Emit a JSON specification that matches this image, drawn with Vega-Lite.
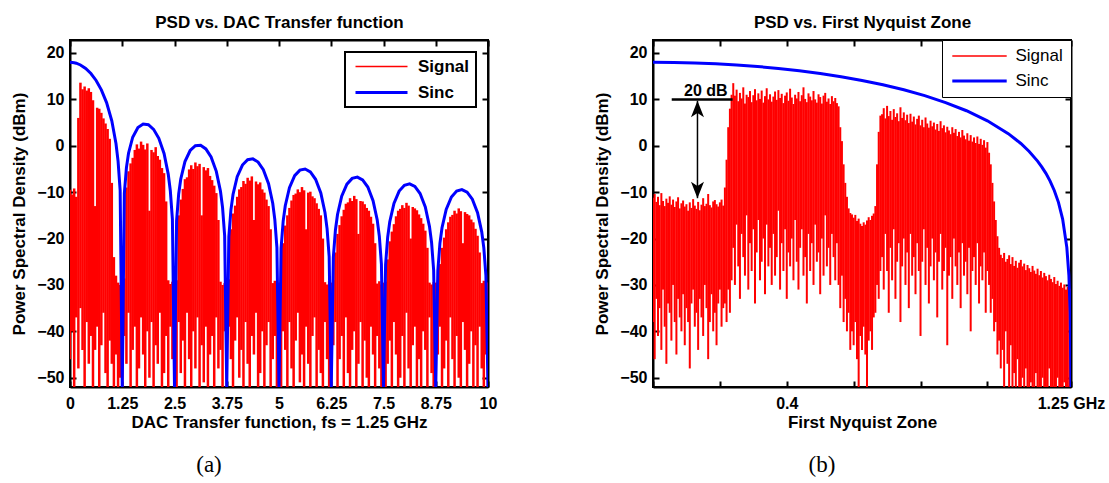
{
"$schema": "https://vega.github.io/schema/vega-lite/v6.json",
"background": "white",
"padding": {"left": 9, "top": 12, "right": 0, "bottom": 0},
"spacing": 94,
"datasets": {
"sigA": [
{"f":0,"hi":-9.5,"lo":-46},{"f":0.05,"hi":-10.5,"lo":-40},{"f":0.1,"hi":-9.2,"lo":-52},{"f":0.15,"hi":-11,"lo":-37},{"f":0.2,"hi":6,"lo":-48},{"f":0.25,"hi":13.6,"lo":-35},{"f":0.3,"hi":12.2,"lo":-44},{"f":0.35,"hi":12.8,"lo":-52},{"f":0.4,"hi":11.9,"lo":-38},{"f":0.45,"hi":12.4,"lo":-47},{"f":0.5,"hi":11.6,"lo":-41},{"f":0.55,"hi":9.8,"lo":-52},{"f":0.6,"hi":-13,"lo":-44},{"f":0.65,"hi":8.2,"lo":-39},{"f":0.7,"hi":8,"lo":-52},{"f":0.75,"hi":7.1,"lo":-43},{"f":0.8,"hi":5.9,"lo":-36},{"f":0.85,"hi":4.8,"lo":-49},{"f":0.9,"hi":3.6,"lo":-52},{"f":0.95,"hi":1.5,"lo":-42},{"f":1,"hi":-8,"lo":-47},{"f":1.05,"hi":-24,"lo":-52},{"f":1.1,"hi":-28,"lo":-45},{"f":1.15,"hi":-29.5,"lo":-52},{"f":1.2,"hi":-30,"lo":-50},
{"f":1.25,"hi":-29.5,"lo":-52},{"f":1.3,"hi":-28.6,"lo":-41},{"f":1.35,"hi":-9,"lo":-47},{"f":1.4,"hi":-5.5,"lo":-36},{"f":1.45,"hi":-3.8,"lo":-52},{"f":1.5,"hi":-2.6,"lo":-44},{"f":1.55,"hi":-0.9,"lo":-39},{"f":1.6,"hi":0.3,"lo":-52},{"f":1.65,"hi":-0.6,"lo":-48},{"f":1.7,"hi":0.9,"lo":-37},{"f":1.75,"hi":0.2,"lo":-45},{"f":1.8,"hi":-0.8,"lo":-52},{"f":1.85,"hi":0.5,"lo":-40},{"f":1.9,"hi":-14,"lo":-50},{"f":1.95,"hi":-0.9,"lo":-38},{"f":2,"hi":-1.4,"lo":-52},{"f":2.05,"hi":-0.3,"lo":-43},{"f":2.1,"hi":-2.2,"lo":-47},{"f":2.15,"hi":-3,"lo":-36},{"f":2.2,"hi":-4.8,"lo":-52},{"f":2.25,"hi":-5.9,"lo":-49},{"f":2.3,"hi":-12,"lo":-41},{"f":2.35,"hi":-29,"lo":-52},{"f":2.4,"hi":-29.8,"lo":-39},{"f":2.45,"hi":-29.3,"lo":-46},
{"f":2.5,"hi":-29.5,"lo":-44},{"f":2.55,"hi":-29,"lo":-52},{"f":2.6,"hi":-15,"lo":-38},{"f":2.65,"hi":-11.6,"lo":-49},{"f":2.7,"hi":-9.3,"lo":-42},{"f":2.75,"hi":-7.2,"lo":-52},{"f":2.8,"hi":-6.8,"lo":-36},{"f":2.85,"hi":-5.1,"lo":-46},{"f":2.9,"hi":-4.2,"lo":-52},{"f":2.95,"hi":-5,"lo":-40},{"f":3,"hi":-3.6,"lo":-48},{"f":3.05,"hi":-4.4,"lo":-37},{"f":3.1,"hi":-3.9,"lo":-52},{"f":3.15,"hi":-15,"lo":-43},{"f":3.2,"hi":-4.6,"lo":-51},{"f":3.25,"hi":-5.3,"lo":-39},{"f":3.3,"hi":-4.8,"lo":-52},{"f":3.35,"hi":-6.5,"lo":-45},{"f":3.4,"hi":-7.4,"lo":-41},{"f":3.45,"hi":-8.6,"lo":-52},{"f":3.5,"hi":-10.2,"lo":-37},{"f":3.55,"hi":-16,"lo":-48},{"f":3.6,"hi":-29.3,"lo":-44},{"f":3.65,"hi":-30,"lo":-52},{"f":3.7,"hi":-29.6,"lo":-40},
{"f":3.75,"hi":-29.5,"lo":-52},{"f":3.8,"hi":-28.8,"lo":-39},{"f":3.85,"hi":-18,"lo":-46},{"f":3.9,"hi":-14.6,"lo":-52},{"f":3.95,"hi":-12.9,"lo":-42},{"f":4,"hi":-11,"lo":-37},{"f":4.05,"hi":-9.4,"lo":-50},{"f":4.1,"hi":-8.9,"lo":-44},{"f":4.15,"hi":-7.6,"lo":-52},{"f":4.2,"hi":-8.2,"lo":-38},{"f":4.25,"hi":-6.9,"lo":-47},{"f":4.3,"hi":-7.5,"lo":-52},{"f":4.35,"hi":-6.6,"lo":-41},{"f":4.4,"hi":-16,"lo":-45},{"f":4.45,"hi":-7.7,"lo":-36},{"f":4.5,"hi":-8.3,"lo":-52},{"f":4.55,"hi":-7.9,"lo":-49},{"f":4.6,"hi":-9.4,"lo":-40},{"f":4.65,"hi":-10.1,"lo":-52},{"f":4.7,"hi":-11.6,"lo":-43},{"f":4.75,"hi":-13,"lo":-38},{"f":4.8,"hi":-18,"lo":-52},{"f":4.85,"hi":-29.6,"lo":-46},{"f":4.9,"hi":-29.1,"lo":-41},{"f":4.95,"hi":-29.8,"lo":-52},
{"f":5,"hi":-29.5,"lo":-47},{"f":5.05,"hi":-29.2,"lo":-52},{"f":5.1,"hi":-21,"lo":-40},{"f":5.15,"hi":-17.2,"lo":-44},{"f":5.2,"hi":-15,"lo":-52},{"f":5.25,"hi":-13.4,"lo":-38},{"f":5.3,"hi":-11.8,"lo":-48},{"f":5.35,"hi":-10.6,"lo":-52},{"f":5.4,"hi":-10.3,"lo":-42},{"f":5.45,"hi":-9.4,"lo":-36},{"f":5.5,"hi":-10,"lo":-51},{"f":5.55,"hi":-8.9,"lo":-45},{"f":5.6,"hi":-9.6,"lo":-52},{"f":5.65,"hi":-18,"lo":-39},{"f":5.7,"hi":-10.1,"lo":-47},{"f":5.75,"hi":-9.9,"lo":-52},{"f":5.8,"hi":-10.9,"lo":-41},{"f":5.85,"hi":-11.3,"lo":-37},{"f":5.9,"hi":-12.4,"lo":-52},{"f":5.95,"hi":-13.6,"lo":-44},{"f":6,"hi":-15,"lo":-49},{"f":6.05,"hi":-20,"lo":-52},{"f":6.1,"hi":-29.4,"lo":-38},{"f":6.15,"hi":-29.9,"lo":-46},{"f":6.2,"hi":-29.2,"lo":-52},
{"f":6.25,"hi":-29.5,"lo":-52},{"f":6.3,"hi":-29,"lo":-43},{"f":6.35,"hi":-23,"lo":-38},{"f":6.4,"hi":-19,"lo":-52},{"f":6.45,"hi":-17.1,"lo":-46},{"f":6.5,"hi":-15.2,"lo":-41},{"f":6.55,"hi":-13.8,"lo":-52},{"f":6.6,"hi":-12.5,"lo":-37},{"f":6.65,"hi":-12.2,"lo":-49},{"f":6.7,"hi":-11.3,"lo":-52},{"f":6.75,"hi":-11.9,"lo":-44},{"f":6.8,"hi":-10.8,"lo":-40},{"f":6.85,"hi":-11.5,"lo":-52},{"f":6.9,"hi":-19,"lo":-47},{"f":6.95,"hi":-11.9,"lo":-38},{"f":7,"hi":-12,"lo":-52},{"f":7.05,"hi":-12.6,"lo":-42},{"f":7.1,"hi":-13.4,"lo":-50},{"f":7.15,"hi":-14,"lo":-52},{"f":7.2,"hi":-15.3,"lo":-39},{"f":7.25,"hi":-16.8,"lo":-45},{"f":7.3,"hi":-21,"lo":-52},{"f":7.35,"hi":-29.7,"lo":-41},{"f":7.4,"hi":-29.2,"lo":-48},{"f":7.45,"hi":-29.9,"lo":-52},
{"f":7.5,"hi":-29.5,"lo":-40},{"f":7.55,"hi":-29.3,"lo":-52},{"f":7.6,"hi":-24.5,"lo":-47},{"f":7.65,"hi":-20.6,"lo":-42},{"f":7.7,"hi":-18.5,"lo":-52},{"f":7.75,"hi":-16.9,"lo":-38},{"f":7.8,"hi":-15.2,"lo":-45},{"f":7.85,"hi":-14,"lo":-52},{"f":7.9,"hi":-13.6,"lo":-50},{"f":7.95,"hi":-12.8,"lo":-41},{"f":8,"hi":-13.4,"lo":-52},{"f":8.05,"hi":-12.3,"lo":-36},{"f":8.1,"hi":-12.9,"lo":-48},{"f":8.15,"hi":-20,"lo":-52},{"f":8.2,"hi":-13.2,"lo":-43},{"f":8.25,"hi":-13.5,"lo":-39},{"f":8.3,"hi":-13.9,"lo":-52},{"f":8.35,"hi":-14.8,"lo":-46},{"f":8.4,"hi":-15.6,"lo":-52},{"f":8.45,"hi":-16.8,"lo":-40},{"f":8.5,"hi":-18.3,"lo":-44},{"f":8.55,"hi":-22,"lo":-52},{"f":8.6,"hi":-29.5,"lo":-37},{"f":8.65,"hi":-29.9,"lo":-49},{"f":8.7,"hi":-29.4,"lo":-52},
{"f":8.75,"hi":-29.5,"lo":-52},{"f":8.8,"hi":-29,"lo":-45},{"f":8.85,"hi":-25.5,"lo":-39},{"f":8.9,"hi":-22,"lo":-52},{"f":8.95,"hi":-19.8,"lo":-48},{"f":9,"hi":-18,"lo":-42},{"f":9.05,"hi":-16.5,"lo":-52},{"f":9.1,"hi":-15.3,"lo":-37},{"f":9.15,"hi":-14.9,"lo":-46},{"f":9.2,"hi":-14,"lo":-52},{"f":9.25,"hi":-14.6,"lo":-41},{"f":9.3,"hi":-13.5,"lo":-50},{"f":9.35,"hi":-14.1,"lo":-52},{"f":9.4,"hi":-21,"lo":-38},{"f":9.45,"hi":-14.3,"lo":-44},{"f":9.5,"hi":-14.7,"lo":-52},{"f":9.55,"hi":-15,"lo":-47},{"f":9.6,"hi":-15.9,"lo":-40},{"f":9.65,"hi":-16.5,"lo":-52},{"f":9.7,"hi":-17.9,"lo":-43},{"f":9.75,"hi":-19.4,"lo":-52},{"f":9.8,"hi":-23,"lo":-39},{"f":9.85,"hi":-29.6,"lo":-48},{"f":9.9,"hi":-29.1,"lo":-52},{"f":9.95,"hi":-29.8,"lo":-45},{"f":10,"hi":-29.5,"lo":-52}
],
"sincA": [
{"f":0,"s":18},{"f":0.05,"s":17.97},{"f":0.1,"s":17.91},{"f":0.15,"s":17.8},{"f":0.25,"s":17.42},{"f":0.375,"s":16.67},{"f":0.5,"s":15.58},{"f":0.625,"s":14.08},{"f":0.75,"s":12.06},{"f":0.875,"s":9.31},{"f":1,"s":5.38},{"f":1.1,"s":0.49},{"f":1.15,"s":-3.31},{"f":1.2,"s":-9.63},{"f":1.25,"s":-52},
{"f":1.3,"s":-10.32},{"f":1.35,"s":-4.7},{"f":1.4,"s":-1.61},{"f":1.5,"s":1.85},{"f":1.625,"s":3.94},{"f":1.75,"s":4.69},{"f":1.875,"s":4.54},{"f":2,"s":3.54},{"f":2.125,"s":1.61},{"f":2.25,"s":-1.67},{"f":2.35,"s":-6.11},{"f":2.4,"s":-9.7},{"f":2.45,"s":-15.83},{"f":2.5,"s":-52},
{"f":2.55,"s":-16.18},{"f":2.6,"s":-10.39},{"f":2.65,"s":-7.15},{"f":2.75,"s":-3.41},{"f":2.875,"s":-1.02},{"f":3,"s":0.01},{"f":3.125,"s":0.1},{"f":3.25,"s":-0.68},{"f":3.375,"s":-2.41},{"f":3.5,"s":-5.51},{"f":3.6,"s":-9.81},{"f":3.65,"s":-13.34},{"f":3.7,"s":-19.41},{"f":3.75,"s":-52},
{"f":3.8,"s":-19.64},{"f":3.85,"s":-13.8},{"f":3.9,"s":-10.51},{"f":4,"s":-6.67},{"f":4.125,"s":-4.15},{"f":4.25,"s":-3.01},{"f":4.375,"s":-2.82},{"f":4.5,"s":-3.51},{"f":4.625,"s":-5.15},{"f":4.75,"s":-8.16},{"f":4.85,"s":-12.4},{"f":4.9,"s":-15.9},{"f":4.95,"s":-21.94},{"f":5,"s":-52},
{"f":5.05,"s":-22.11},{"f":5.1,"s":-16.25},{"f":5.15,"s":-12.92},{"f":5.25,"s":-9.03},{"f":5.375,"s":-6.45},{"f":5.5,"s":-5.25},{"f":5.625,"s":-5.01},{"f":5.75,"s":-5.64},{"f":5.875,"s":-7.23},{"f":6,"s":-10.19},{"f":6.1,"s":-14.39},{"f":6.15,"s":-17.87},{"f":6.2,"s":-23.89},{"f":6.25,"s":-52},
{"f":6.3,"s":-24.03},{"f":6.35,"s":-18.15},{"f":6.4,"s":-14.81},{"f":6.5,"s":-10.88},{"f":6.625,"s":-8.27},{"f":6.75,"s":-7.03},{"f":6.875,"s":-6.75},{"f":7,"s":-7.35},{"f":7.125,"s":-8.9},{"f":7.25,"s":-11.83},{"f":7.35,"s":-16.01},{"f":7.4,"s":-19.48},{"f":7.45,"s":-25.49},{"f":7.5,"s":-52},
{"f":7.55,"s":-25.6},{"f":7.6,"s":-19.71},{"f":7.65,"s":-16.36},{"f":7.75,"s":-12.41},{"f":7.875,"s":-9.77},{"f":8,"s":-8.51},{"f":8.125,"s":-8.2},{"f":8.25,"s":-8.77},{"f":8.375,"s":-10.3},{"f":8.5,"s":-13.21},{"f":8.6,"s":-17.38},{"f":8.65,"s":-20.84},{"f":8.7,"s":-26.84},{"f":8.75,"s":-52},
{"f":8.8,"s":-26.93},{"f":8.85,"s":-21.03},{"f":8.9,"s":-17.67},{"f":9,"s":-13.71},{"f":9.125,"s":-11.05},{"f":9.25,"s":-9.77},{"f":9.375,"s":-9.44},{"f":9.5,"s":-10},{"f":9.625,"s":-11.51},{"f":9.75,"s":-14.41},{"f":9.85,"s":-18.55},{"f":9.9,"s":-22.01},{"f":9.95,"s":-28},{"f":10,"s":-52}
],
"sigB": [
{"f":0,"hi":-11.2,"lo":-38},{"f":0.005,"hi":-10.4,"lo":-46},{"f":0.01,"hi":-12.1,"lo":-33},{"f":0.015,"hi":-11,"lo":-41},{"f":0.02,"hi":-12.8,"lo":-35},{"f":0.025,"hi":-10.2,"lo":-44},{"f":0.03,"hi":-11.9,"lo":-31},{"f":0.035,"hi":-13,"lo":-39},{"f":0.04,"hi":-11.4,"lo":-47},{"f":0.045,"hi":-12.3,"lo":-34},{"f":0.05,"hi":-10.9,"lo":-36},{"f":0.055,"hi":-12.7,"lo":-42},{"f":0.06,"hi":-11.6,"lo":-30},{"f":0.065,"hi":-13.2,"lo":-38},{"f":0.07,"hi":-12,"lo":-45},{"f":0.075,"hi":-11.1,"lo":-33},{"f":0.08,"hi":-13.5,"lo":-37},{"f":0.085,"hi":-12.4,"lo":-40},{"f":0.09,"hi":-11.8,"lo":-32},{"f":0.095,"hi":-13.1,"lo":-43},{"f":0.1,"hi":-12.6,"lo":-35},{"f":0.105,"hi":-14,"lo":-38},{"f":0.11,"hi":-12.2,"lo":-48},{"f":0.115,"hi":-13.4,"lo":-34},{"f":0.12,"hi":-11.5,"lo":-31},{"f":0.125,"hi":-12.9,"lo":-39},{"f":0.13,"hi":-13.6,"lo":-36},{"f":0.135,"hi":-12.1,"lo":-44},{"f":0.14,"hi":-13.9,"lo":-33},{"f":0.145,"hi":-12.7,"lo":-37},{"f":0.15,"hi":-11.3,"lo":-41},{"f":0.155,"hi":-13,"lo":-30},{"f":0.16,"hi":-12.5,"lo":-35},{"f":0.165,"hi":-10.4,"lo":-46},{"f":0.17,"hi":-12.8,"lo":-38},{"f":0.175,"hi":-13.3,"lo":-32},{"f":0.18,"hi":-12,"lo":-40},{"f":0.185,"hi":-11.7,"lo":-36},{"f":0.19,"hi":-12.6,"lo":-43},{"f":0.195,"hi":-13.1,"lo":-34},{"f":0.2,"hi":-12.2,"lo":-31},{"f":0.205,"hi":-11.6,"lo":-39},{"f":0.21,"hi":-12.9,"lo":-35},
{"f":0.215,"hi":-9,"lo":-34},{"f":0.22,"hi":-3,"lo":-38},{"f":0.225,"hi":4,"lo":-31},{"f":0.23,"hi":8,"lo":-36},{"f":0.235,"hi":11,"lo":-29},
{"f":0.24,"hi":13.5,"lo":-22},{"f":0.245,"hi":10.8,"lo":-30},{"f":0.25,"hi":12.1,"lo":-17},{"f":0.255,"hi":9.6,"lo":-26},{"f":0.26,"hi":11.4,"lo":-33},{"f":0.265,"hi":10.2,"lo":-19},{"f":0.27,"hi":12.6,"lo":-24},{"f":0.275,"hi":9.1,"lo":-28},{"f":0.28,"hi":11,"lo":-15},{"f":0.285,"hi":10.5,"lo":-31},{"f":0.29,"hi":11.8,"lo":-21},{"f":0.295,"hi":9.4,"lo":-27},{"f":0.3,"hi":10.9,"lo":-18},{"f":0.305,"hi":12.2,"lo":-34},{"f":0.31,"hi":9.8,"lo":-23},{"f":0.315,"hi":11.3,"lo":-16},{"f":0.32,"hi":10.1,"lo":-29},{"f":0.325,"hi":11.9,"lo":-25},{"f":0.33,"hi":9.3,"lo":-20},{"f":0.335,"hi":10.7,"lo":-32},{"f":0.34,"hi":12.4,"lo":-17},{"f":0.345,"hi":10,"lo":-26},{"f":0.35,"hi":11.1,"lo":-22},{"f":0.355,"hi":9.5,"lo":-30},{"f":0.36,"hi":10.6,"lo":-19},{"f":0.365,"hi":11.7,"lo":-28},{"f":0.37,"hi":9.9,"lo":-24},{"f":0.375,"hi":12,"lo":-14},{"f":0.38,"hi":10.3,"lo":-31},{"f":0.385,"hi":11.2,"lo":-21},{"f":0.39,"hi":9.2,"lo":-27},{"f":0.395,"hi":10.8,"lo":-18},{"f":0.4,"hi":11.5,"lo":-33},{"f":0.405,"hi":9.7,"lo":-23},{"f":0.41,"hi":12.3,"lo":-26},{"f":0.415,"hi":10.4,"lo":-20},{"f":0.42,"hi":9,"lo":-29},{"f":0.425,"hi":11,"lo":-16},{"f":0.43,"hi":10.2,"lo":-25},{"f":0.435,"hi":11.6,"lo":-31},{"f":0.44,"hi":9.6,"lo":-22},{"f":0.445,"hi":10.9,"lo":-18},{"f":0.45,"hi":12.6,"lo":-28},{"f":0.455,"hi":10.1,"lo":-24},{"f":0.46,"hi":9.4,"lo":-34},{"f":0.465,"hi":11.3,"lo":-19},{"f":0.47,"hi":10.6,"lo":-27},{"f":0.475,"hi":9.8,"lo":-21},{"f":0.48,"hi":11.8,"lo":-30},{"f":0.485,"hi":10,"lo":-17},{"f":0.49,"hi":9.3,"lo":-25},{"f":0.495,"hi":11.1,"lo":-23},{"f":0.5,"hi":10.5,"lo":-32},{"f":0.505,"hi":9.1,"lo":-20},{"f":0.51,"hi":10.8,"lo":-28},{"f":0.515,"hi":11.4,"lo":-15},{"f":0.52,"hi":9.5,"lo":-26},{"f":0.525,"hi":10.2,"lo":-22},{"f":0.53,"hi":9,"lo":-30},{"f":0.535,"hi":10.7,"lo":-19},{"f":0.54,"hi":9.6,"lo":-24},{"f":0.545,"hi":10.3,"lo":-29},{"f":0.55,"hi":9.2,"lo":-21},
{"f":0.555,"hi":8.5,"lo":-30},{"f":0.56,"hi":4,"lo":-35},{"f":0.565,"hi":1,"lo":-28},{"f":0.57,"hi":-4,"lo":-38},{"f":0.575,"hi":-8,"lo":-33},{"f":0.58,"hi":-11,"lo":-40},{"f":0.585,"hi":-13.5,"lo":-36},{"f":0.59,"hi":-14.5,"lo":-44},
{"f":0.595,"hi":-14.8,"lo":-40},{"f":0.6,"hi":-15.5,"lo":-43},{"f":0.605,"hi":-14.9,"lo":-38},{"f":0.61,"hi":-16.2,"lo":-46},{"f":0.615,"hi":-15.7,"lo":-52},{"f":0.62,"hi":-16.8,"lo":-41},{"f":0.625,"hi":-17.3,"lo":-44},{"f":0.63,"hi":-16.5,"lo":-39},{"f":0.635,"hi":-17,"lo":-45},{"f":0.64,"hi":-16.1,"lo":-52},{"f":0.645,"hi":-15.4,"lo":-42},{"f":0.65,"hi":-16,"lo":-40},{"f":0.655,"hi":-15.1,"lo":-44},{"f":0.66,"hi":-14.6,"lo":-37},
{"f":0.665,"hi":-13,"lo":-36},{"f":0.67,"hi":-4,"lo":-30},{"f":0.675,"hi":3,"lo":-33},{"f":0.68,"hi":6.5,"lo":-27},
{"f":0.685,"hi":6.8,"lo":-24},{"f":0.69,"hi":8.1,"lo":-31},{"f":0.695,"hi":5.9,"lo":-19},{"f":0.7,"hi":8.6,"lo":-27},{"f":0.705,"hi":6.4,"lo":-36},{"f":0.71,"hi":7.5,"lo":-22},{"f":0.715,"hi":5.6,"lo":-29},{"f":0.72,"hi":7.9,"lo":-18},{"f":0.725,"hi":6.2,"lo":-33},{"f":0.73,"hi":7,"lo":-25},{"f":0.735,"hi":5.3,"lo":-21},{"f":0.74,"hi":8.3,"lo":-38},{"f":0.745,"hi":6,"lo":-26},{"f":0.75,"hi":7.2,"lo":-20},{"f":0.755,"hi":5.5,"lo":-30},{"f":0.76,"hi":6.7,"lo":-23},{"f":0.765,"hi":4.9,"lo":-35},{"f":0.77,"hi":6.9,"lo":-19},{"f":0.775,"hi":5.2,"lo":-28},{"f":0.78,"hi":6.3,"lo":-24},{"f":0.785,"hi":4.6,"lo":-32},{"f":0.79,"hi":5.8,"lo":-21},{"f":0.795,"hi":6.5,"lo":-27},{"f":0.8,"hi":4.4,"lo":-41},{"f":0.805,"hi":5.6,"lo":-25},{"f":0.81,"hi":4,"lo":-18},{"f":0.815,"hi":6.1,"lo":-30},{"f":0.82,"hi":4.8,"lo":-22},{"f":0.825,"hi":3.9,"lo":-34},{"f":0.83,"hi":5.4,"lo":-26},{"f":0.835,"hi":4.2,"lo":-20},{"f":0.84,"hi":5,"lo":-29},{"f":0.845,"hi":3.5,"lo":-23},{"f":0.85,"hi":4.7,"lo":-37},{"f":0.855,"hi":3.2,"lo":-25},{"f":0.86,"hi":5.3,"lo":-19},{"f":0.865,"hi":3.8,"lo":-31},{"f":0.87,"hi":4.4,"lo":-27},{"f":0.875,"hi":2.9,"lo":-22},{"f":0.88,"hi":4.1,"lo":-43},{"f":0.885,"hi":3.3,"lo":-28},{"f":0.89,"hi":2.5,"lo":-24},{"f":0.895,"hi":4,"lo":-33},{"f":0.9,"hi":2.8,"lo":-20},{"f":0.905,"hi":3.6,"lo":-26},{"f":0.91,"hi":2.1,"lo":-30},{"f":0.915,"hi":3,"lo":-23},{"f":0.92,"hi":1.8,"lo":-35},{"f":0.925,"hi":3.4,"lo":-21},{"f":0.93,"hi":2.2,"lo":-28},{"f":0.935,"hi":1.4,"lo":-25},{"f":0.94,"hi":2.7,"lo":-32},{"f":0.945,"hi":1.1,"lo":-22},{"f":0.95,"hi":2.3,"lo":-40},{"f":0.955,"hi":0.9,"lo":-27},{"f":0.96,"hi":1.8,"lo":-24},{"f":0.965,"hi":0.6,"lo":-30},{"f":0.97,"hi":2,"lo":-21},{"f":0.975,"hi":0.4,"lo":-34},{"f":0.98,"hi":1.5,"lo":-26},{"f":0.985,"hi":0.2,"lo":-29},{"f":0.99,"hi":1.2,"lo":-23},{"f":0.995,"hi":-0.4,"lo":-36},{"f":1,"hi":0.8,"lo":-27},
{"f":1.005,"hi":-1.5,"lo":-30},{"f":1.01,"hi":-4,"lo":-36},{"f":1.015,"hi":-8,"lo":-33},{"f":1.02,"hi":-12,"lo":-40},{"f":1.025,"hi":-16,"lo":-38},{"f":1.03,"hi":-19.5,"lo":-45},{"f":1.035,"hi":-22,"lo":-42},{"f":1.04,"hi":-23.5,"lo":-48},
{"f":1.045,"hi":-24.2,"lo":-44},{"f":1.05,"hi":-23.1,"lo":-52},{"f":1.055,"hi":-25,"lo":-40},{"f":1.06,"hi":-24.4,"lo":-47},{"f":1.065,"hi":-23.6,"lo":-52},{"f":1.07,"hi":-25.5,"lo":-43},{"f":1.075,"hi":-24,"lo":-52},{"f":1.08,"hi":-25.9,"lo":-49},{"f":1.085,"hi":-24.8,"lo":-52},{"f":1.09,"hi":-26.3,"lo":-46},{"f":1.095,"hi":-25.2,"lo":-52},{"f":1.1,"hi":-24.6,"lo":-52},{"f":1.105,"hi":-26,"lo":-50},{"f":1.11,"hi":-25.4,"lo":-52},{"f":1.115,"hi":-26.8,"lo":-48},{"f":1.12,"hi":-25.7,"lo":-52},{"f":1.125,"hi":-26.4,"lo":-52},{"f":1.13,"hi":-27.2,"lo":-51},{"f":1.135,"hi":-25.9,"lo":-52},{"f":1.14,"hi":-26.9,"lo":-52},{"f":1.145,"hi":-27.6,"lo":-49},{"f":1.15,"hi":-26.5,"lo":-52},{"f":1.155,"hi":-27.9,"lo":-52},{"f":1.16,"hi":-27,"lo":-52},{"f":1.165,"hi":-28.4,"lo":-50},{"f":1.17,"hi":-27.4,"lo":-52},{"f":1.175,"hi":-28.1,"lo":-52},{"f":1.18,"hi":-29,"lo":-52},{"f":1.185,"hi":-27.8,"lo":-48},{"f":1.19,"hi":-28.7,"lo":-52},{"f":1.195,"hi":-29.4,"lo":-52},{"f":1.2,"hi":-28.3,"lo":-52},{"f":1.205,"hi":-29.8,"lo":-52},{"f":1.21,"hi":-29.1,"lo":-50},{"f":1.215,"hi":-30.2,"lo":-52},{"f":1.22,"hi":-29.5,"lo":-52},{"f":1.225,"hi":-30.6,"lo":-52},{"f":1.23,"hi":-29.9,"lo":-51},{"f":1.235,"hi":-31,"lo":-52},{"f":1.24,"hi":-30.4,"lo":-52},{"f":1.245,"hi":-31.3,"lo":-52},{"f":1.25,"hi":-30.8,"lo":-52}
],
"sincB": [
{"f":0,"s":18},{"f":0.0625,"s":17.96},{"f":0.125,"s":17.86},{"f":0.1875,"s":17.68},{"f":0.25,"s":17.42},{"f":0.3125,"s":17.09},{"f":0.375,"s":16.67},{"f":0.4375,"s":16.17},{"f":0.5,"s":15.58},{"f":0.5625,"s":14.89},{"f":0.625,"s":14.08},{"f":0.6875,"s":13.14},{"f":0.75,"s":12.06},{"f":0.8125,"s":10.8},{"f":0.875,"s":9.31},{"f":0.9375,"s":7.55},{"f":1,"s":5.38},{"f":1.0625,"s":2.61},{"f":1.1,"s":0.49},{"f":1.125,"s":-1.23},{"f":1.15,"s":-3.31},{"f":1.1625,"s":-4.54},{"f":1.175,"s":-5.95},{"f":1.1875,"s":-7.61},{"f":1.2,"s":-9.63},{"f":1.2125,"s":-12.2},{"f":1.225,"s":-15.8},{"f":1.2375,"s":-21.9},{"f":1.24375,"s":-28},{"f":1.2475,"s":-36},{"f":1.25,"s":-52}
]
},
"hconcat": [
{
"width": 418, "height": 347,
"title": {"text": "(a)", "orient": "bottom", "anchor": "middle", "frame": "group", "dx": -70, "offset": 24, "font": "Liberation Serif", "fontSize": 23, "fontWeight": "normal", "color": "black"},
"layer": [
{"data": {"name": "sigA"}, "mark": {"type": "rule", "strokeWidth": 2.5, "clip": true},
 "encoding": {
  "x": {"field": "f", "type": "quantitative", "scale": {"domain": [0, 10], "nice": false, "zero": false},
        "axis": {"orient": "bottom", "values": [0,1.25,2.5,3.75,5,6.25,7.5,8.75,10], "format": ".3~g", "title": "DAC Transfer function, fs = 1.25 GHz", "labelPadding": 14, "titlePadding": 3}},
  "y": {"field": "hi", "type": "quantitative", "scale": {"domain": [-52, 22.8], "nice": false, "zero": false},
        "axis": {"orient": "left", "values": [-50,-40,-30,-20,-10,0,10,20], "title": "Power Spectral Density (dBm)", "labelPadding": 12, "titlePadding": 8}},
  "y2": {"field": "lo"},
  "color": {"datum": "Signal", "type": "nominal", "scale": {"domain": ["Signal", "Sinc"], "range": ["#ff0000", "#0000ff"]},
            "legend": {"title": null, "orient": "top-right", "offset": 12, "padding": 6, "labelFontSize": 17, "labelFontWeight": "bold", "labelColor": "black", "symbolType": "M-2.6,0H2.6", "symbolSize": 400, "symbolOffset": 22, "labelOffset": 28, "rowPadding": 8, "strokeColor": "black", "fillColor": "white",
                       "encode": {"legend": {"update": {"strokeWidth": {"value": 2}}}, "symbols": {"update": {"strokeWidth": {"signal": "datum.value === 'Sinc' ? 3 : 1.3"}}}}}}
 }},
{"data": {"name": "sincA"}, "mark": {"type": "line", "strokeWidth": 3, "clip": true},
 "encoding": {
  "x": {"field": "f", "type": "quantitative", "axis": {"orient": "top", "values": [0,1.25,2.5,3.75,5,6.25,7.5,8.75,10], "labels": false, "title": "PSD vs. DAC Transfer function", "titlePadding": 8}},
  "y": {"field": "s", "type": "quantitative", "axis": {"orient": "right", "values": [-50,-40,-30,-20,-10,0,10,20], "labels": false, "title": null}},
  "color": {"datum": "Sinc", "type": "nominal"}
 }}
],
"resolve": {"axis": {"x": "independent", "y": "independent"}}
},
{
"width": 418, "height": 347,
"title": {"text": "(b)", "orient": "bottom", "anchor": "middle", "frame": "group", "dx": -40, "offset": 24, "font": "Liberation Serif", "fontSize": 23, "fontWeight": "normal", "color": "black"},
"layer": [
{"data": {"name": "sigB"}, "mark": {"type": "rule", "strokeWidth": 2, "clip": true},
 "encoding": {
  "x": {"field": "f", "type": "quantitative", "scale": {"domain": [0, 1.25], "nice": false, "zero": false},
        "axis": {"orient": "bottom", "values": [0,0.2,0.4,0.6,0.8,1,1.25], "labelExpr": "datum.value == 0.4 ? '0.4' : (datum.value == 1.25 ? '1.25 GHz' : '')", "title": "First Nyquist Zone", "labelPadding": 14, "titlePadding": 3}},
  "y": {"field": "hi", "type": "quantitative", "scale": {"domain": [-52, 22.8], "nice": false, "zero": false},
        "axis": {"orient": "left", "values": [-50,-40,-30,-20,-10,0,10,20], "title": "Power Spectral Density (dBm)", "labelPadding": 12, "titlePadding": 8}},
  "y2": {"field": "lo"},
  "color": {"datum": "Signal", "type": "nominal", "scale": {"domain": ["Signal", "Sinc"], "range": ["#ff0000", "#0000ff"]},
            "legend": {"title": null, "orient": "top-right", "offset": 0, "padding": 7.5, "labelFontSize": 17, "labelFontWeight": "normal", "labelColor": "black", "symbolType": "M-2.72,0H2.72", "symbolSize": 400, "symbolOffset": 21.5, "labelOffset": 27.5, "rowPadding": 7, "strokeColor": "black", "fillColor": "white",
                       "encode": {"legend": {"update": {"strokeWidth": {"value": 1}}}, "symbols": {"update": {"strokeWidth": {"signal": "datum.value === 'Sinc' ? 3 : 1.3"}}}}}}
 }},
{"data": {"name": "sincB"}, "mark": {"type": "line", "strokeWidth": 3, "clip": true},
 "encoding": {
  "x": {"field": "f", "type": "quantitative", "axis": {"orient": "top", "values": [0,0.2,0.4,0.6,0.8,1,1.25], "labels": false, "title": "PSD vs. First Nyquist Zone", "titlePadding": 8}},
  "y": {"field": "s", "type": "quantitative", "axis": {"orient": "right", "values": [-50,-40,-30,-20,-10,0,10,20], "labels": false, "title": null}},
  "color": {"datum": "Sinc", "type": "nominal"}
 }},
{"data": {"values": [{"f": 0.056, "f2": 0.238, "v": 10}]}, "mark": {"type": "rule", "strokeWidth": 2.5, "color": "black"},
 "encoding": {"x": {"field": "f", "type": "quantitative", "axis": null}, "x2": {"field": "f2"}, "y": {"field": "v", "type": "quantitative", "axis": null}}},
{"data": {"values": [{"f": 0.133, "v": 9.7, "v2": -11.3}]}, "mark": {"type": "rule", "strokeWidth": 1.5, "color": "black"},
 "encoding": {"x": {"field": "f", "type": "quantitative", "axis": null}, "y": {"field": "v", "type": "quantitative", "axis": null}, "y2": {"field": "v2"}}},
{"data": {"values": [{"f": 0.133, "v": 9.7}]}, "mark": {"type": "point", "shape": "M0,0L0.75,1.9L0,1.4L-0.75,1.9Z", "filled": true, "size": 300, "color": "black", "opacity": 1},
 "encoding": {"x": {"field": "f", "type": "quantitative", "axis": null}, "y": {"field": "v", "type": "quantitative", "axis": null}}},
{"data": {"values": [{"f": 0.133, "v": -11.3}]}, "mark": {"type": "point", "shape": "M0,0L0.75,-1.9L0,-1.4L-0.75,-1.9Z", "filled": true, "size": 300, "color": "black", "opacity": 1},
 "encoding": {"x": {"field": "f", "type": "quantitative", "axis": null}, "y": {"field": "v", "type": "quantitative", "axis": null}}},
{"data": {"values": [{"f": 0.158, "v": 10.7, "label": "20 dB"}]}, "mark": {"type": "text", "fontSize": 16, "fontWeight": "bold", "font": "Liberation Sans", "align": "center", "baseline": "alphabetic", "color": "black"},
 "encoding": {"x": {"field": "f", "type": "quantitative", "axis": null}, "y": {"field": "v", "type": "quantitative", "axis": null}, "text": {"field": "label"}}}
],
"resolve": {"axis": {"x": "independent", "y": "independent"}}
}
],
"resolve": {"scale": {"color": "independent"}, "legend": {"color": "independent"}},
"config": {
 "font": "Liberation Sans",
 "view": {"stroke": "black", "strokeWidth": 2},
 "axis": {"grid": false, "domainColor": "black", "domainWidth": 2, "tickColor": "black", "tickWidth": 2, "tickSize": -6, "labelColor": "black", "labelFont": "Liberation Sans", "labelFontSize": 16, "labelFontWeight": "bold", "titleColor": "black", "titleFont": "Liberation Sans", "titleFontSize": 17, "titleFontWeight": "bold", "labelFlush": false, "labelOverlap": false},
 "legend": {"labelFont": "Liberation Sans"}
}
}
